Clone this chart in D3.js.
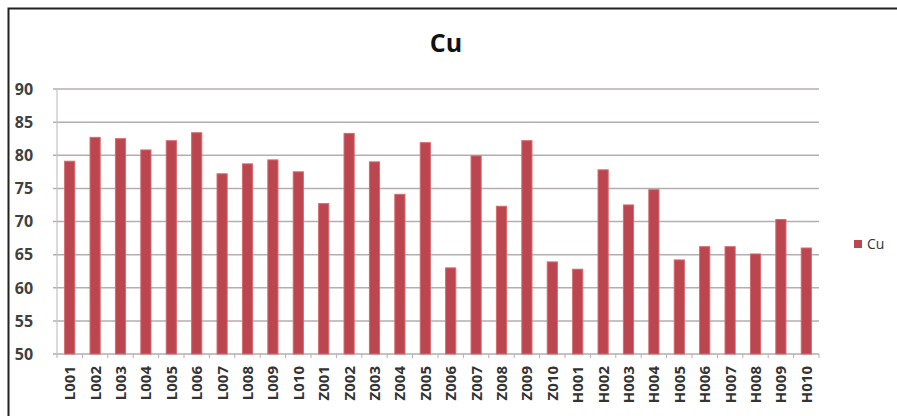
<!DOCTYPE html>
<html><head><meta charset="utf-8">
<script src="https://cdn.jsdelivr.net/npm/d3@7"></script>
<style>body{margin:0;background:#fff}svg{display:block}</style>
</head><body>
<script>
const categories = ["L001","L002","L003","L004","L005","L006","L007","L008","L009","L010",
  "Z001","Z002","Z003","Z004","Z005","Z006","Z007","Z008","Z009","Z010",
  "H001","H002","H003","H004","H005","H006","H007","H008","H009","H010"];
const cuValues = [79.1,82.7,82.5,80.8,82.2,83.4,77.2,78.7,79.3,77.5,
  72.7,83.3,79.0,74.1,81.9,63.0,79.9,72.3,82.2,63.9,
  62.8,77.8,72.5,74.8,64.2,66.2,66.2,65.1,70.3,66.0];
const yTicks = [50,55,60,65,70,75,80,85,90];
const seriesName = "Cu";
const title = "Cu";

(function(){
const W = 897, H = 416;
const svg = d3.select("body").append("svg").attr("width", W).attr("height", H);
svg.append("rect").attr("width", W).attr("height", H).attr("fill", "#fff");
// frame
svg.append("path").attr("d", `M8.5,${H+2} V8.5 H${W+2}`).attr("fill","none").attr("stroke","#222").attr("stroke-width",2);

const mL = 57, mR = 819, mT = 89, mB = 354;
const x = d3.scaleBand().domain(categories).range([mL, mR]).paddingInner(0.6).paddingOuter(0.3);
const y = d3.scaleLinear().domain([50, 90]).range([mB, mT]);

const font = "'Open Sans', 'Liberation Sans', sans-serif";

// gridlines
svg.append("g").selectAll("line").data(yTicks).join("line")
  .attr("x1", mL - 4).attr("x2", mR)
  .attr("y1", d => y(d)).attr("y2", d => y(d))
  .attr("stroke", "#b5aeae").attr("stroke-width", 1.5);

// y axis line
svg.append("line").attr("x1", mL).attr("x2", mL).attr("y1", mT).attr("y2", mB)
  .attr("stroke", "#c8c2c2").attr("stroke-width", 1.2);

// y labels
svg.append("g").selectAll("text").data(yTicks).join("text")
  .attr("x", 24).attr("y", d => y(d)).attr("dy", "0.36em")
  .attr("text-anchor", "middle")
  .attr("font-family", font).attr("font-weight", 700).attr("font-size", 16)
  .attr("fill", "#404040").text(d => d);

// x ticks
const bounds = d3.range(categories.length + 1).map(i => mL + (mR - mL) * i / categories.length);
svg.append("g").selectAll("line").data(bounds).join("line")
  .attr("x1", d => d).attr("x2", d => d).attr("y1", mB).attr("y2", mB + 4)
  .attr("stroke", "#b5aeae").attr("stroke-width", 1);

// bars
svg.append("g").selectAll("rect").data(categories).join("rect")
  .attr("x", d => x(d)).attr("width", x.bandwidth())
  .attr("y", (d, i) => y(cuValues[i]))
  .attr("height", (d, i) => mB - y(cuValues[i]))
  .attr("fill", "#bb4650").attr("stroke", "#d66a6e").attr("stroke-width", 1);

// x labels
svg.append("g").selectAll("text").data(categories).join("text")
  .attr("transform", d => `translate(${x(d) + x.bandwidth()/2},366) rotate(-90)`)
  .attr("text-anchor", "end").attr("dy", "0.36em")
  .attr("font-family", font).attr("font-weight", 700).attr("font-size", 15)
  .attr("fill", "#333").text(d => d);

// title
svg.append("text").attr("x", 446).attr("y", 52).attr("text-anchor", "middle")
  .attr("font-family", font).attr("font-weight", 700).attr("font-size", 25)
  .attr("fill", "#111").text(title);

// legend
svg.append("rect").attr("x", 854).attr("y", 240).attr("width", 8).attr("height", 8).attr("fill", "#bb4650");
svg.append("text").attr("x", 867).attr("y", 244).attr("dy", "0.36em")
  .attr("font-family", font).attr("font-size", 14).attr("fill", "#333").text(seriesName);
})();
</script>
</body></html>
